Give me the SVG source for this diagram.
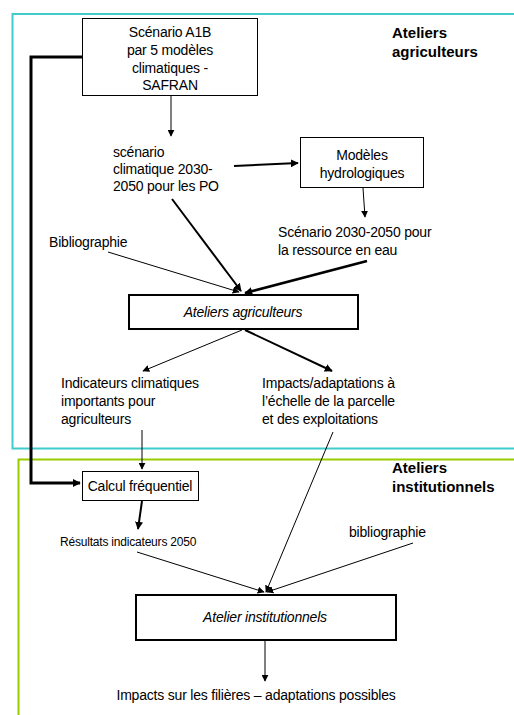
<svg xmlns="http://www.w3.org/2000/svg" width="514" height="715" viewBox="0 0 514 715">
<defs>
<marker id="ah" viewBox="0 0 10 10" refX="9" refY="5" markerWidth="7" markerHeight="7" markerUnits="userSpaceOnUse" orient="auto"><path d="M0,0 L10,5 L0,10 z" fill="#000"/></marker>
<marker id="ah2" viewBox="0 0 10 10" refX="9" refY="5" markerWidth="8" markerHeight="8" markerUnits="userSpaceOnUse" orient="auto"><path d="M0,0 L10,5 L0,10 z" fill="#000"/></marker>
</defs>
<style>
text{font-family:"Liberation Sans",Arial,sans-serif;font-size:14px;fill:#000;letter-spacing:-0.2px}
.b{font-weight:bold;font-size:15px;letter-spacing:0}
.i{font-style:italic}
.s{font-size:12px}
.c{text-anchor:middle}
.box{fill:#fff;stroke:#000;stroke-width:1}
.box2{fill:#fff;stroke:#000;stroke-width:2}
.t{stroke:#000;stroke-width:1;fill:none;marker-end:url(#ah)}
.k{stroke:#000;stroke-width:2;fill:none;marker-end:url(#ah2)}
.k3{stroke-width:3}
.k25{stroke-width:2.5}
</style>
<rect width="514" height="715" fill="#fff"/>
<g id="frames">
<rect x="12.5" y="14" width="520" height="434.5" fill="none" stroke="#40CCCC" stroke-width="2"/>
<rect x="18.5" y="459.5" width="520" height="270" fill="none" stroke="#99CC00" stroke-width="2"/>
</g>
<g id="connectors">
<path class="k k3" d="M82,57 H31 V483 H80"/>
<path class="t" d="M171,96 V136"/>
<path class="k" d="M234,166 L298,163"/>
<path class="t" d="M363,188 L365,217"/>
<path class="k" d="M172,199 L241,291"/>
<path class="t" d="M108,252 L239,292"/>
<path class="k k25" d="M367,261 L245,293"/>
<path class="t" d="M242,330 L143,371"/>
<path class="k" d="M245,330 L332,371"/>
<path class="t" d="M142,430 V469"/>
<path class="t" d="M333,432 L266,592"/>
<path class="k" d="M142,501 L138,529"/>
<path class="t" d="M137,552 L264,592"/>
<path class="t" d="M413,543 L267,592"/>
<path class="t" d="M265,640 V681"/>
</g>
<g id="label-agri"><text class="b" x="392" y="38">Ateliers</text><text class="b" x="392" y="57">agriculteurs</text></g>
<g id="label-inst"><text class="b" x="392" y="473">Ateliers</text><text class="b" x="392" y="492">institutionnels</text></g>
<g id="n-scenario">
<rect class="box" x="82.5" y="18.5" width="175" height="77"/>
<text class="c" x="170" y="37">Scénario A1B</text>
<text class="c" x="170" y="55">par 5 modèles</text>
<text class="c" x="170" y="73">climatiques -</text>
<text class="c" x="170" y="90">SAFRAN</text>
</g>
<g id="n-scenclim">
<text x="113" y="157">scénario</text>
<text x="113" y="174">climatique 2030-</text>
<text x="113" y="191">2050 pour les PO</text>
</g>
<g id="n-hydro">
<rect class="box" x="300.5" y="137.5" width="123" height="50"/>
<text class="c" x="362" y="160">Modèles</text>
<text class="c" x="362" y="178">hydrologiques</text>
</g>
<g id="n-ressource">
<text x="278" y="237">Scénario 2030-2050 pour</text>
<text x="278" y="255">la ressource en eau</text>
</g>
<g id="n-biblio"><text x="49" y="247">Bibliographie</text></g>
<g id="n-ateliers-agri">
<rect class="box2" x="129" y="295" width="229" height="34"/>
<text class="c i" x="243" y="317">Ateliers agriculteurs</text>
</g>
<g id="n-indicateurs">
<text x="61" y="388">Indicateurs climatiques</text>
<text x="61" y="406">importants pour</text>
<text x="61" y="424">agriculteurs</text>
</g>
<g id="n-impacts">
<text x="262" y="388">Impacts/adaptations à</text>
<text x="262" y="406">l’échelle de la parcelle</text>
<text x="262" y="424">et des exploitations</text>
</g>
<g id="n-calcul">
<rect class="box" x="82.5" y="471.5" width="116" height="29"/>
<text class="c" x="140" y="491">Calcul fréquentiel</text>
</g>
<g id="n-resultats"><text class="s" x="60" y="546">Résultats indicateurs 2050</text></g>
<g id="n-biblio2"><text x="349" y="537">bibliographie</text></g>
<g id="n-atelier-inst">
<rect class="box2" x="136" y="595" width="260" height="45"/>
<text class="c i" x="265" y="622">Atelier institutionnels</text>
</g>
<g id="n-final"><text class="c" x="256" y="700">Impacts sur les filières – adaptations possibles</text></g>
</svg>
